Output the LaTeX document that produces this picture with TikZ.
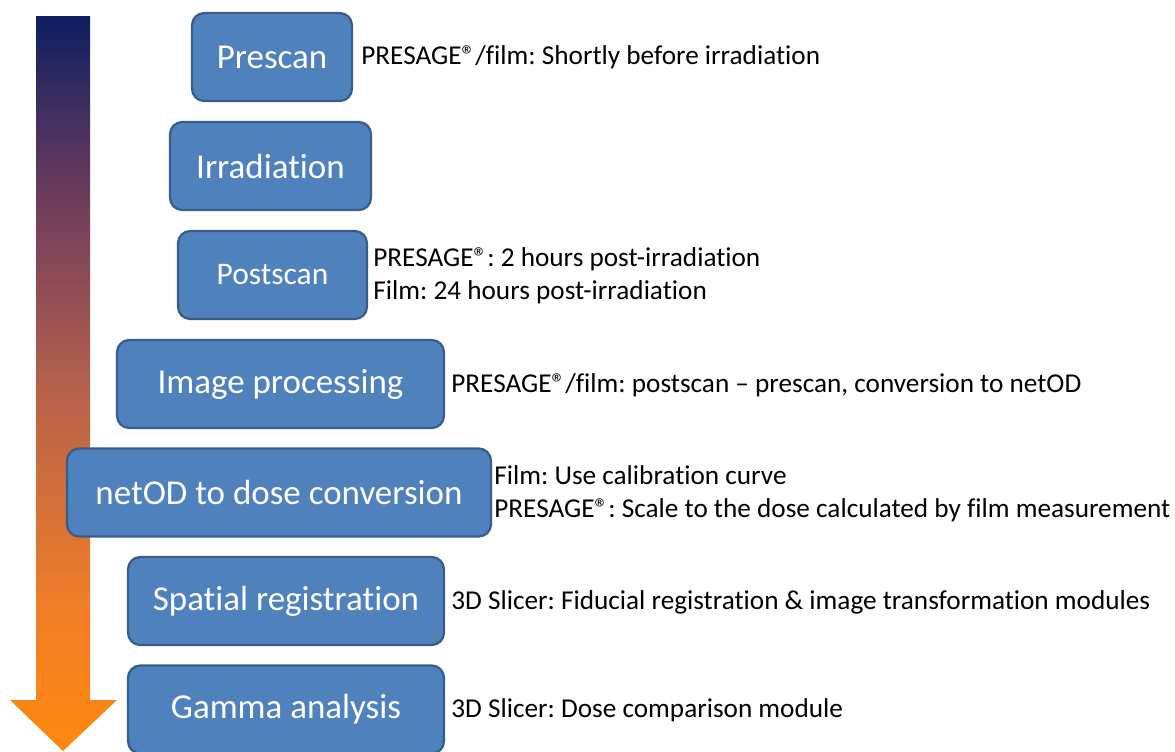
\documentclass[tikz,border=0pt]{standalone}
\usepackage{fontspec}
\setmainfont{Carlito}[Ligatures=NoCommon]

\definecolor{stepblue}{HTML}{4F81BD}
\definecolor{stepedge}{HTML}{385D8A}
\definecolor{arrA}{RGB}{14,31,98}
\definecolor{arrB}{RGB}{110,60,92}
\definecolor{arrC}{RGB}{180,96,76}
\definecolor{arrD}{RGB}{240,125,40}
\definecolor{arrE}{RGB}{255,137,15}

% time arrow shading, bottom to top
\pgfdeclareverticalshading{timearrow}{100bp}{color(0bp)=(arrE); color(25bp)=(arrE); color(35bp)=(arrD); color(50bp)=(arrC); color(62.5bp)=(arrB); color(75bp)=(arrA); color(100bp)=(arrA)}

\tikzset{stepbox/.style={rectangle, rounded corners=7pt, fill=stepblue, draw=stepedge, line width=1.3pt, text=white, minimum height=1.76cm, font=\fontsize{19.9}{24}\selectfont}}
\tikzset{note/.style={anchor=west, inner sep=0pt, align=left, font=\fontsize{15.5}{18.8}\selectfont}}

\frenchspacing
\begin{document}
\begin{tikzpicture}[x=0.02cm, y=-0.02cm]
	\useasboundingbox (0,0) rectangle (1175,751);
	
	% time arrow
	\shade[shading=timearrow]
		(36,16) -- (90,16) -- (90,700) -- (117,700) -- (63,751) -- (10,700) -- (36,700) -- cycle;
	
	% steps
	\node[stepbox, minimum width=3.2cm] (prescan) at (272,57) {Prescan};
	\node[stepbox, minimum width=4.02cm] (irradiation) at (270.5,166) {Irradiation};
	\node[stepbox, minimum width=3.78cm, font=\fontsize{17.9}{22}\selectfont] (postscan) at (272.5,275) {Postscan};
	\node[stepbox, minimum width=6.54cm] (processing) at (280.5,384) {Image processing};
	\node[stepbox, minimum width=8.48cm] (conversion) at (279,492.5) {netOD to dose conversion};
	\node[stepbox, minimum width=6.32cm] (registration) at (286,601) {Spatial registration};
	\node[stepbox, minimum width=6.32cm] (gamma) at (286,709.5) {Gamma analysis};
	
	% notes
	\node[note] (prescannote) at (361,57) {PRESAGE®/film: Shortly before irradiation};
	\node[note] (postscannote) at (373,275.5) {PRESAGE®: 2 hours post-irradiation\\Film: 24 hours post-irradiation};
	\node[note] (processingnote) at (451,385) {PRESAGE®/film: postscan – prescan, conversion to netOD};
	\node[note] (conversionnote) at (494,493.5) {Film: Use calibration curve\\PRESAGE®: Scale to the dose calculated by film measurement};
	\node[note] (registrationnote) at (451,602) {3D Slicer: Fiducial registration \& image transformation modules};
	\node[note] (gammanote) at (451,710) {3D Slicer: Dose comparison module};
	
\end{tikzpicture}
\end{document}
